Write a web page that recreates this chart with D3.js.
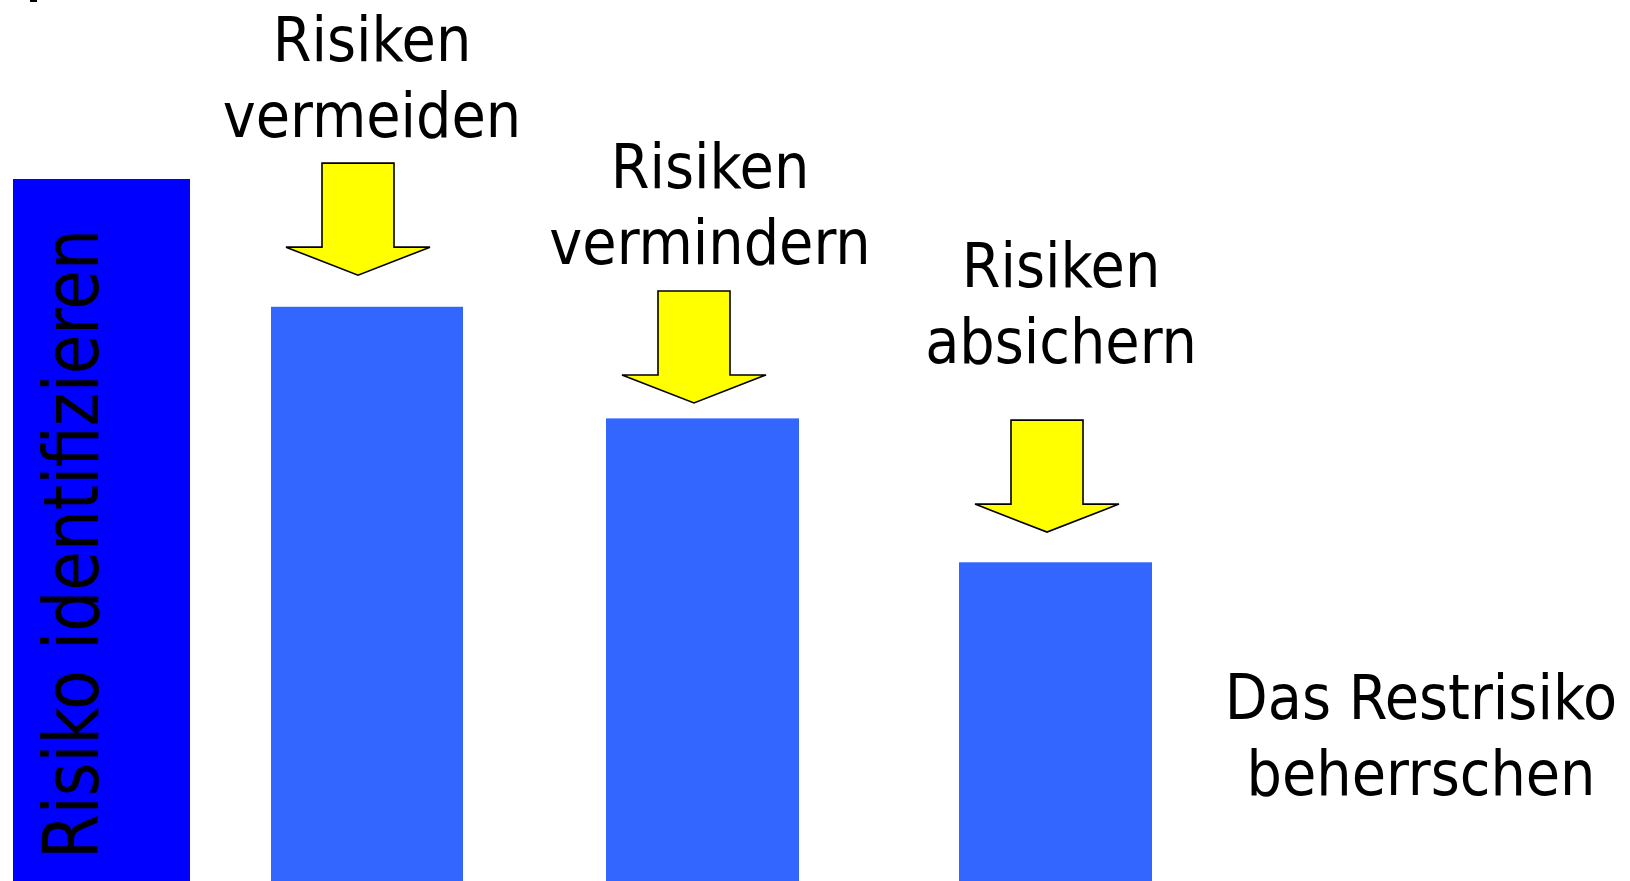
<!DOCTYPE html>
<html>
<head>
<meta charset="utf-8">
<script src="https://cdn.jsdelivr.net/npm/d3@7"></script>
<style>
  body { margin: 0; background: #fff; }
  svg { display: block; }
</style>
</head>
<body>
<div id="wrapper"></div>
<script>
// Data
const steps = ['identifizieren', 'vermeiden', 'vermindern', 'absichern']
const levels = [100, 81.8, 65.9, 45.4]      // remaining risk after each step
const arrowFrom = [86.3, 68.1, 49.7]        // where each reduction arrow points
const stepLabels = [
  ['Risiken', 'vermeiden'],
  ['Risiken', 'vermindern'],
  ['Risiken', 'absichern'],
  ['Das Restrisiko', 'beherrschen']
]
const sideLabel = 'Risiko identifizieren'

const dimensions = { width: 1630, height: 881 }

const wrapper = d3.select('#wrapper').append('svg')
                  .attr('width', dimensions.width)
                  .attr('height', dimensions.height)

// Scales
const yScale = d3.scaleLinear()
            .domain([0, 100])
            .range([dimensions.height, 179])

const xLeft = d3.scaleOrdinal().domain(steps).range([13, 271, 606, 959])
const xRight = d3.scaleOrdinal().domain(steps).range([190, 463, 799, 1152])
const colorScale = d3.scaleOrdinal().domain(steps)
                     .range(['#0000ff', '#3366ff', '#3366ff', '#3366ff'])

// Bars
wrapper.selectAll('rect.bar')
  .data(steps)
  .enter().append('rect')
  .attr('class', 'bar')
  .attr('x', d => xLeft(d))
  .attr('width', d => xRight(d) - xLeft(d))
  .attr('y', (d, i) => yScale(levels[i]))
  .attr('height', (d, i) => yScale(0) - yScale(levels[i]))
  .attr('fill', d => colorScale(d))

// Vertical label in the first bar
wrapper.append('text')
  .attr('transform', `translate(98,859) rotate(-90)`)
  .attr('font-family', '"DejaVu Sans Condensed", "DejaVu Sans", sans-serif')
  .attr('font-size', 76)
  .attr('textLength', 630)
  .attr('lengthAdjust', 'spacingAndGlyphs')
  .attr('fill', '#000')
  .text(sideLabel)

// Arrows
const arrowLine = d3.line()
const arrowShape = [[-36, -112], [36, -112], [36, -28], [72, -28], [0, 0],
                    [-72, -28], [-36, -28], [-36, -112]]
const arrowX = d3.scaleOrdinal().domain(steps.slice(1)).range([358, 694, 1047])

wrapper.selectAll('path.arrow')
  .data(steps.slice(1))
  .enter().append('path')
  .attr('class', 'arrow')
  .attr('d', (d, i) => {
    const cx = arrowX(d), ty = yScale(arrowFrom[i])
    return arrowLine(arrowShape.map(p => [cx + p[0], ty + p[1]])) + 'Z'
  })
  .attr('fill', '#ffff00')
  .attr('stroke', '#000')
  .attr('stroke-width', 1.6)
  .attr('stroke-linejoin', 'miter')

// Step labels
const labelX = [372, 710, 1061, 1421]
const labelY = [61, 188, 287, 719]

const labels = wrapper.selectAll('text.step')
  .data(stepLabels)
  .enter().append('text')
  .attr('class', 'step')
  .attr('text-anchor', 'middle')
  .attr('font-family', '"DejaVu Sans Condensed", "DejaVu Sans", sans-serif')
  .attr('font-size', 62)
  .attr('fill', '#000')

labels.selectAll('tspan')
  .data((d, i) => d.map(t => ({ t, i })))
  .enter().append('tspan')
  .attr('x', d => labelX[d.i])
  .attr('y', (d, j) => labelY[d.i] + j * 76)
  .text(d => d.t)

// little mark in the top left corner
wrapper.append('rect')
  .attr('x', 30).attr('y', 0)
  .attr('width', 7).attr('height', 2)
  .attr('fill', '#000')
</script>
</body>
</html>
